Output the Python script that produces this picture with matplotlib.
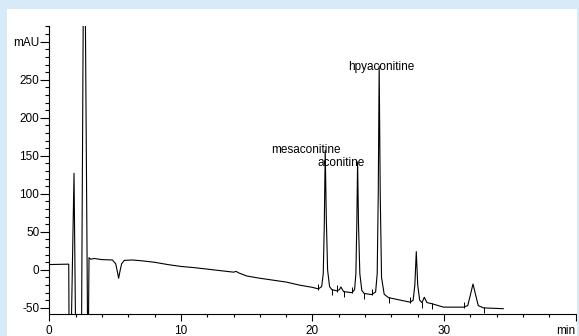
import numpy as np
import matplotlib
matplotlib.use('Agg')
import matplotlib.pyplot as plt
from matplotlib.patches import Rectangle
from matplotlib.ticker import MultipleLocator

plt.rcParams['font.family'] = ['Liberation Sans', 'DejaVu Sans']
plt.rcParams['axes.unicode_minus'] = False

# chromatogram trace (min, mAU)
time_min = [0, 1.4, 1.48, 1.52, 1.6, 1.88, 2.04, 2.43, 2.65, 2.94, 3.02, 3.15, 3.4,
            4.0, 4.8, 5.05, 5.17, 5.27, 5.37, 5.5, 5.7, 6.3, 7.0, 8.0, 9.0, 10.0,
            11.0, 12.0, 13.0, 14.0, 14.2, 14.4, 15.0, 16.0, 17.0, 18.0, 19.0, 20.0,
            20.45, 20.7, 20.82, 20.9, 20.97, 21.05, 21.15, 21.3, 21.47,
            21.85, 22.05, 22.16, 22.28, 22.36,
            23.0, 23.2, 23.3, 23.37, 23.43, 23.5, 23.6, 23.75, 23.93,
            24.5, 24.8, 24.92, 25.0, 25.07, 25.15, 25.25, 25.45, 25.78,
            27.43, 27.65, 27.78, 27.89, 28.0, 28.15, 28.32, 28.5, 28.7, 29.08,
            29.96, 31.48, 31.8, 32.0, 32.2, 32.4, 32.6, 33.0, 34.5]
signal_mau = [7, 7.5, 7.5, -150, -150, 127, -150, -150, 560, -150, 16, 14, 15,
              13.5, 13, 8, -2, -11, -2, 8, 12.5, 13, 12, 10, 7, 4.5,
              3, 1, -1, -3, -2, -4, -8, -11, -13.5, -16, -20, -23,
              -25, -22, -5, 60, 157, 70, 0, -22, -26,
              -27.5, -26, -22.5, -26, -28.5,
              -30, -26, -5, 60, 142, 60, -5, -27, -31,
              -32.5, -29, -5, 100, 268, 100, -10, -32, -36.5,
              -42.5, -40, -20, 24, -20, -40, -43, -36, -43, -44.5,
              -49, -49, -47, -33, -18.6, -33, -47, -50, -51]

peak_names = ['mesaconitine', 'aconitine', 'hpyaconitine']

# integration start (+1) / end (-1) marks
mark_times = [20.45, 21.47, 21.85, 22.36, 23.0, 23.93, 24.5, 25.78, 27.43, 28.32, 29.08, 31.48, 33.0]
mark_dirs = [1, -1, 1, -1, 1, -1, 1, -1, 1, -1, -1, 1, -1]

fig = plt.figure(figsize=(5.79, 3.36), dpi=100)
fig.patch.set_facecolor('white')
ax = fig.add_axes([0.0851, 0.0655, 0.9091, 0.8557])
ax.set_facecolor('white')

ax.plot(time_min, signal_mau, color='black', lw=0.8)

base = np.interp(mark_times, time_min, signal_mau)
for t, b, d in zip(mark_times, base, mark_dirs):
    ax.vlines(t, b - 1 * d, b + 7 * d, color='black', lw=0.7)

label_pos = [(19.5, 158), (22.2, 141), (25.2, 267)]
for name, (tx, ty) in zip(peak_names, label_pos):
    ax.text(tx, ty, name, ha='center', va='center', fontsize=8.5)

ax.set_xlim(0, 40)
ax.set_ylim(-58, 320)
ax.spines['top'].set_visible(False)
ax.spines['right'].set_visible(False)
for s in ['left', 'bottom']:
    ax.spines[s].set_linewidth(0.8)

ax.set_xticks([0, 10, 20, 30, 40], ['0', '10', '20', '30', 'min'])
ax.get_xticklabels()[-1].set_horizontalalignment('right')
ax.xaxis.set_minor_locator(MultipleLocator(2))
ax.set_yticks([-50, 0, 50, 100, 150, 200, 250, 300],
              ['-50', '0', '50', '100', '150', '200', '250', 'mAU'])
ax.yaxis.set_minor_locator(MultipleLocator(10))

ax.tick_params(axis='y', which='major', length=6.3, width=0.8, pad=0.8, labelsize=8.5)
ax.tick_params(axis='y', which='minor', length=3.1, width=0.8)
ax.tick_params(axis='x', which='major', length=5, width=0.8, pad=3.2, labelsize=8.5)
ax.tick_params(axis='x', which='minor', length=2.5, width=0.8)

# light blue frame
blue = '#d6eaf8'
fig.add_artist(Rectangle((0, 327 / 336), 1, 9 / 336, transform=fig.transFigure,
                         facecolor=blue, edgecolor='none', zorder=10))
fig.add_artist(Rectangle((0, 0), 7 / 579, 1, transform=fig.transFigure,
                         facecolor=blue, edgecolor='none', zorder=10))
fig.add_artist(Rectangle((577 / 579, 0), 2 / 579, 1, transform=fig.transFigure,
                         facecolor=blue, edgecolor='none', zorder=10))

fig.savefig('out.png', dpi=100)
